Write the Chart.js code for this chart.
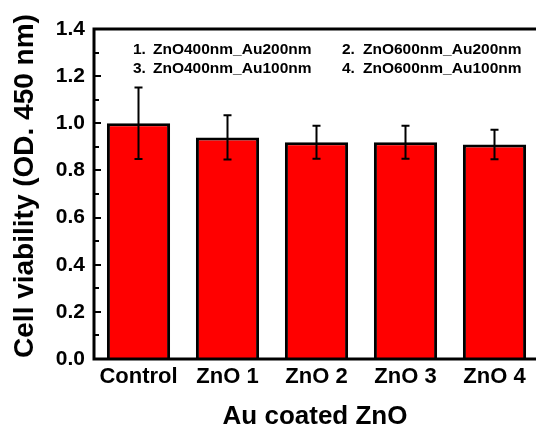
<!DOCTYPE html>
<html>
<head>
<meta charset="utf-8">
<script src="https://cdn.jsdelivr.net/npm/chart.js@4"></script>
<style>
  html, body { margin: 0; padding: 0; overflow: hidden; background: #fff; }
  #wrap { width: 536px; height: 428px; overflow: hidden; }
</style>
</head>
<body>
<div id="wrap"><canvas id="chartViability" width="548" height="428"></canvas></div>
<script>
// ── Cell viability bar chart ──────────────────────────

const categories = ["Control", "ZnO 1", "ZnO 2", "ZnO 3", "ZnO 4"];
const viability = [1.0, 0.94, 0.92, 0.92, 0.91];
const errors = [0.152, 0.094, 0.07, 0.07, 0.063];
const minorTicks = [0.1, 0.3, 0.5, 0.7, 0.9, 1.1, 1.3];
const sampleNotes = [
  ["1.", "ZnO400nm_Au200nm"],
  ["2.", "ZnO600nm_Au200nm"],
  ["3.", "ZnO400nm_Au100nm"],
  ["4.", "ZnO600nm_Au100nm"],
];

const FONT = "'Liberation Sans', Arial, sans-serif";

const framePlugin = {
  id: "frame",
  afterDatasetsDraw(chart) {
    const { ctx, chartArea: a, scales } = chart;
    const y = scales.y;
    const x = scales.x;
    ctx.save();

    // error bars
    ctx.strokeStyle = "#000";
    ctx.lineWidth = 2;
    viability.forEach((v, i) => {
      const px = x.getPixelForValue(i);
      const top = y.getPixelForValue(v + errors[i]);
      const bot = y.getPixelForValue(v - errors[i]);
      ctx.beginPath();
      ctx.moveTo(px, top);
      ctx.lineTo(px, bot);
      ctx.moveTo(px - 4, top);
      ctx.lineTo(px + 4, top);
      ctx.moveTo(px - 4, bot);
      ctx.lineTo(px + 4, bot);
      ctx.stroke();
    });

    // frame
    ctx.lineWidth = 3;
    ctx.strokeRect(a.left, a.top, a.right - a.left, a.bottom - a.top);

    // inward ticks on left axis
    ctx.lineWidth = 2;
    y.ticks.forEach((t) => {
      const py = Math.round(y.getPixelForValue(t.value));
      ctx.beginPath();
      ctx.moveTo(a.left, py);
      ctx.lineTo(a.left + 7, py);
      ctx.stroke();
    });
    minorTicks.forEach((t) => {
      const py = Math.round(y.getPixelForValue(t));
      ctx.beginPath();
      ctx.moveTo(a.left, py);
      ctx.lineTo(a.left + 5, py);
      ctx.stroke();
    });

    // sample notes
    ctx.fillStyle = "#000";
    ctx.font = "bold 15.5px " + FONT;
    ctx.textBaseline = "middle";
    ctx.textAlign = "left";
    const cols = [[133, 153], [342, 363]];
    const rows = [50, 69];
    sampleNotes.forEach((n, i) => {
      const c = cols[i % 2];
      const r = rows[Math.floor(i / 2)];
      ctx.fillText(n[0], c[0], r);
      ctx.fillText(n[1], c[1], r);
    });

    // axis titles
    ctx.textBaseline = "alphabetic";
    ctx.textAlign = "center";
    ctx.font = "bold 26px " + FONT;
    ctx.fillText("Au coated ZnO", 315, 424);

    ctx.font = "bold 28px " + FONT;
    ctx.translate(33, 186);
    ctx.rotate(-Math.PI / 2);
    ctx.fillText("Cell viability (OD. 450 nm)", 0, 0);

    ctx.restore();
  },
};

new Chart(document.getElementById("chartViability"), {
  type: "bar",
  data: {
    labels: categories,
    datasets: [
      {
        data: viability,
        backgroundColor: "#ff0000",
        borderColor: "#000",
        borderWidth: 3,
        categoryPercentage: 0.71,
        barPercentage: 1,
      },
    ],
  },
  options: {
    responsive: false,
    animation: false,
    layout: { padding: { top: 29, right: 9, left: 0, bottom: 0 } },
    plugins: {
      legend: { display: false },
      tooltip: { enabled: false },
    },
    scales: {
      x: {
        grid: { display: false, drawTicks: false },
        border: { display: false },
        ticks: {
          color: "#000",
          padding: 5,
          maxRotation: 0,
          font: { family: FONT, size: 22, weight: "bold" },
        },
        afterFit: (s) => { s.height = 69; },
      },
      y: {
        min: 0,
        max: 1.4,
        grid: { display: false, drawTicks: false },
        border: { display: false },
        ticks: {
          stepSize: 0.2,
          color: "#000",
          padding: 9,
          font: { family: FONT, size: 21, weight: "bold" },
          callback: (v) => Number(v).toFixed(1),
        },
        afterFit: (s) => { s.width = 94; },
      },
    },
  },
  plugins: [framePlugin],
});
</script>
</body>
</html>
